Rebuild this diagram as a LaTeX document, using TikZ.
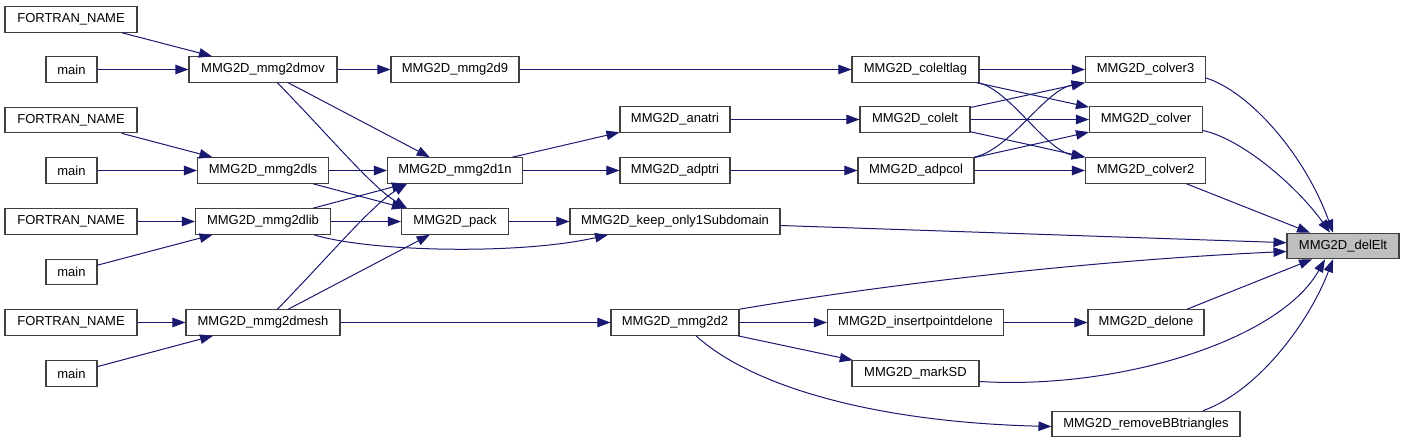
\documentclass[tikz,border=0pt]{standalone}
\usepackage{fontspec}
\setmainfont{Liberation Sans}
\usetikzlibrary{arrows.meta}
\definecolor{edgeblue}{HTML}{191970}
\definecolor{boxline}{HTML}{404040}
\definecolor{rootfill}{HTML}{BFBFBF}
\tikzset{
  fn/.style={draw=boxline, line width=1.1pt, fill=white, inner sep=0pt,
    minimum height=25.5pt, font=\fontsize{13}{15}\selectfont},
  rootfn/.style={fn, fill=rootfill},
  call/.style={draw=edgeblue, line width=1pt,
    -{Triangle[length=13pt,width=9.5pt]}, fill=none},
}
\begin{document}
\begin{tikzpicture}[x=1pt,y=-1pt]
\useasboundingbox (0,0) rectangle (1404,443);
% column 0
\node[fn, minimum width=132pt] (F1) at (71,19.5) {FORTRAN\_NAME};
\node[fn, minimum width=51pt]  (m1) at (71.5,69.5) {main};
\node[fn, minimum width=132pt] (F2) at (71,120) {FORTRAN\_NAME};
\node[fn, minimum width=51pt]  (m2) at (71.5,170.5) {main};
\node[fn, minimum width=132pt] (F3) at (71,221.5) {FORTRAN\_NAME};
\node[fn, minimum width=51pt]  (m3) at (71.5,272) {main};
\node[fn, minimum width=132pt] (F4) at (71,322.5) {FORTRAN\_NAME};
\node[fn, minimum width=51pt]  (m4) at (71.5,373.5) {main};
% column 1
\node[fn, minimum width=148pt] (mov) at (263,69.5) {MMG2D\_mmg2dmov};
\node[fn, minimum width=131pt] (dls) at (263,170.5) {MMG2D\_mmg2dls};
\node[fn, minimum width=135pt] (dlib) at (263,221.5) {MMG2D\_mmg2dlib};
\node[fn, minimum width=154pt] (dmesh) at (263,322.5) {MMG2D\_mmg2dmesh};
% column 2
\node[fn, minimum width=128pt] (d9) at (455,69.5) {MMG2D\_mmg2d9};
\node[fn, minimum width=135pt] (d1n) at (455,170.5) {MMG2D\_mmg2d1n};
\node[fn, minimum width=107pt] (pack) at (455,221.5) {MMG2D\_pack};
% column 3
\node[fn, minimum width=110pt] (anatri) at (675,119.5) {MMG2D\_anatri};
\node[fn, minimum width=110pt] (adptri) at (675,170.5) {MMG2D\_adptri};
\node[fn, minimum width=210pt] (keep) at (675,221.5) {MMG2D\_keep\_only1Subdomain};
\node[fn, minimum width=128pt] (d2) at (675,322.5) {MMG2D\_mmg2d2};
% column 4
\node[fn, minimum width=127pt] (lag) at (915.5,69.5) {MMG2D\_coleltlag};
\node[fn, minimum width=110pt] (colelt) at (915,119.5) {MMG2D\_colelt};
\node[fn, minimum width=116pt] (adpcol) at (916,170.5) {MMG2D\_adpcol};
\node[fn, minimum width=176pt] (ins) at (915.5,322.5) {MMG2D\_insertpointdelone};
\node[fn, minimum width=127pt] (mark) at (915.5,373.5) {MMG2D\_markSD};
% column 5
\node[fn, minimum width=120pt] (cv3) at (1145.5,69.5) {MMG2D\_colver3};
\node[fn, minimum width=113pt] (cv) at (1146,119.5) {MMG2D\_colver};
\node[fn, minimum width=120pt] (cv2) at (1145.5,170.5) {MMG2D\_colver2};
\node[fn, minimum width=116pt] (delone) at (1146,322.5) {MMG2D\_delone};
\node[fn, minimum width=188pt] (rbb) at (1146,424) {MMG2D\_removeBBtriangles};
% root
\node[rootfn, minimum width=112pt] (del) at (1343,246) {MMG2D\_delElt};

% edges column 0 -> 1
\draw[call] (F1) -- (mov);
\draw[call] (m1) -- (mov);
\draw[call] (F2) -- (dls);
\draw[call] (m2) -- (dls);
\draw[call] (F3) -- (dlib);
\draw[call] (m3) -- (dlib);
\draw[call] (F4) -- (dmesh);
\draw[call] (m4) -- (dmesh);
% column 1 -> 2/3
\draw[call] (mov) -- (d9);
\draw[call] (mov) -- (d1n);
\draw[call] ([xshift=14.5pt]mov.south) .. controls (333,140) and (372,187) .. ([xshift=-48pt]pack.north);
\draw[call] (dls) -- (d1n);
\draw[call] (dls) -- (pack);
\draw[call] (dlib) -- (d1n);
\draw[call] (dlib) -- (pack);
\draw[call] ([xshift=51pt]dlib.south) .. controls (370,252) and (520,255) .. ([xshift=-67pt]keep.south);
\draw[call] ([xshift=14.5pt]dmesh.north) .. controls (333,252) and (372,205) .. ([xshift=-48pt]d1n.south);
\draw[call] (dmesh) -- (pack);
\draw[call] (dmesh) -- (d2);
% column 2 -> 3/4
\draw[call] (d9) -- (lag);
\draw[call] (d1n) -- (anatri);
\draw[call] (d1n) -- (adptri);
\draw[call] (pack) -- (keep);
% column 3 -> 4
\draw[call] (anatri) -- (colelt);
\draw[call] (adptri) -- (adpcol);
\draw[call] (d2) -- (ins);
\draw[call] (d2) -- (mark);
\draw[call] ([xshift=21pt]d2.south) .. controls (750,385) and (870,422) .. ([yshift=-2.5pt]rbb.west);
% column 4 -> 5
\draw[call] (lag) -- (cv3);
\draw[call] (lag) -- (cv);
\draw[call] ([xshift=63pt]lag.south) .. controls (1010,90) and (1045,150) .. ([xshift=-61pt]cv2.north);
\draw[call] (colelt) -- (cv3);
\draw[call] (colelt) -- (cv);
\draw[call] (colelt) -- (cv2);
\draw[call] ([xshift=58pt]adpcol.north) .. controls (1010,150) and (1045,90) .. ([xshift=-61pt]cv3.south);
\draw[call] (adpcol) -- (cv);
\draw[call] (adpcol) -- (cv2);
\draw[call] (ins) -- (delone);
% to root
\draw[call] ([yshift=-8.5pt]cv3.east) .. controls (1250,92) and (1305,155) .. ([xshift=-10pt]del.north);
\draw[call] ([yshift=-11pt]cv.east) .. controls (1245,140) and (1300,190) .. ([xshift=-13pt]del.north);
\draw[call] ([xshift=41pt]cv2.south) -- ([xshift=-33pt]del.north);
\draw[call] ([yshift=-4pt]keep.east) -- ([yshift=3.3pt]del.west);
\draw[call] (d2.north east) .. controls (900,282) and (1100,260) .. ([yshift=-5.5pt]del.west);
\draw[call] ([xshift=41pt]delone.north) -- ([xshift=-31pt]del.south);
\draw[call] ([yshift=-8pt]mark.east) .. controls (1120,390) and (1280,340) .. ([xshift=-18pt]del.south);
\draw[call] ([xshift=57pt]rbb.north) .. controls (1260,390) and (1310,320) .. ([xshift=-10pt]del.south);
\end{tikzpicture}
\end{document}
